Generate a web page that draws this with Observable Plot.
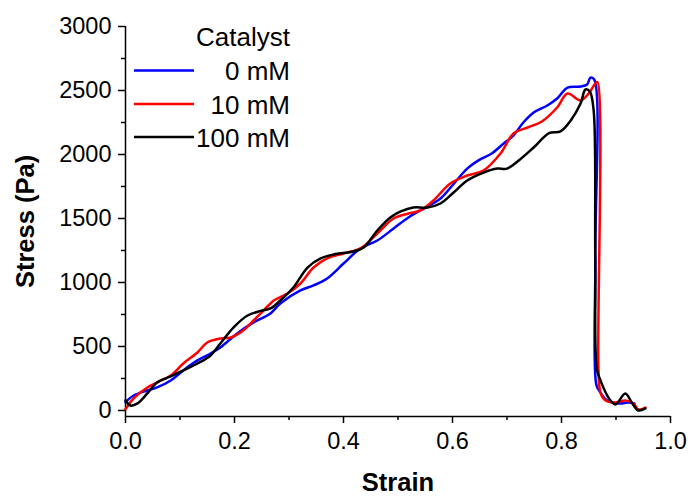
<!DOCTYPE html>
<html>
<head>
<meta charset="utf-8">
<script src="https://cdn.jsdelivr.net/npm/d3@7"></script>
<script src="https://cdn.jsdelivr.net/npm/@observablehq/plot@0.6"></script>
<style>
  html, body { margin: 0; padding: 0; background: #fff; }
  #chart { width: 690px; height: 496px; }
  svg { font-family: "Liberation Sans", Arial, sans-serif; }
</style>
</head>
<body>
<div id="chart"></div>
<script>
// ---- Data ----
const seriesNames = ["0 mM", "10 mM", "100 mM"];
const seriesColors = ["#0000ff", "#ff0000", "#000000"];
const legendTitle = "Catalyst";
const xLabel = "Strain";
const yLabel = "Stress (Pa)";
const xTicks = [0, 0.2, 0.4, 0.6, 0.8, 1.0];
const xMinorTicks = [0.1, 0.3, 0.5, 0.7, 0.9];
const yTicks = [0, 500, 1000, 1500, 2000, 2500, 3000];
const yMinorTicks = [250, 750, 1250, 1750, 2250, 2750];

const strain0 = [0.000,0.015,0.040,0.058,0.083,0.106,0.132,0.156,0.174,0.205,0.235,0.266,0.284,0.321,0.345,0.370,0.400,0.431,0.462,0.492,0.519,0.541,0.578,0.600,0.627,0.650,0.672,0.694,0.712,0.730,0.749,0.774,0.792,0.811,0.835,0.847,0.853,0.860,0.862,0.864,0.870,0.884,0.905,0.923,0.934];
const stress0 = [65,117,156,180,234,313,391,445,492,602,688,758,836,938,977,1031,1148,1266,1328,1422,1508,1563,1656,1760,1890,1960,2008,2086,2150,2250,2328,2383,2437,2523,2531,2547,2600,2586,1200,200,150,78,55,62,55];

const strain10 = [0.000,0.015,0.040,0.058,0.083,0.106,0.132,0.150,0.174,0.193,0.216,0.235,0.266,0.272,0.297,0.321,0.345,0.370,0.400,0.431,0.462,0.492,0.519,0.541,0.565,0.596,0.627,0.657,0.688,0.712,0.738,0.764,0.792,0.811,0.835,0.850,0.862,0.866,0.868,0.872,0.881,0.899,0.917,0.932,0.941,0.954];
const stress10 = [10,94,180,219,273,367,453,531,563,570,625,703,836,860,914,992,1117,1188,1227,1266,1383,1500,1539,1563,1641,1773,1836,1875,2008,2164,2211,2258,2367,2477,2422,2477,2555,2565,300,133,78,62,78,55,8,23];

const strain100 = [0.000,0.009,0.022,0.040,0.058,0.083,0.106,0.132,0.156,0.174,0.198,0.224,0.248,0.266,0.284,0.308,0.334,0.358,0.382,0.418,0.437,0.462,0.486,0.505,0.528,0.554,0.578,0.602,0.627,0.657,0.682,0.700,0.725,0.749,0.778,0.798,0.817,0.835,0.844,0.852,0.859,0.862,0.865,0.872,0.886,0.899,0.917,0.930,0.941,0.954];
const stress100 = [80,39,55,133,219,266,313,367,430,523,648,742,778,797,859,961,1117,1188,1219,1242,1273,1406,1508,1555,1586,1586,1617,1703,1797,1859,1890,1890,1965,2055,2168,2180,2266,2398,2508,2492,2344,1200,320,230,102,47,133,55,0,16];

// ---- Build table ----
const strains = [strain0, strain10, strain100];
const stresses = [stress0, stress10, stress100];
const rows = [];
seriesNames.forEach((name, i) => {
  strains[i].forEach((s, j) => rows.push({series: name, strain: s, stress: stresses[i][j]}));
});

const yMin = -47;

const chart = Plot.plot({
  width: 690,
  height: 496,
  marginLeft: 125,
  marginRight: 20,
  marginTop: 26,
  marginBottom: 80,
  style: {fontFamily: '"Liberation Sans", Arial, sans-serif', color: "#000", background: "#fff"},
  x: {domain: [0, 1]},
  y: {domain: [yMin, 3000]},
  color: {domain: seriesNames, range: seriesColors},
  marks: [
    Plot.axisX(xTicks, {tickSize: 7, tickPadding: 9, fontSize: 23.5, strokeWidth: 1.5, tickFormat: d3.format(".1f"), label: null}),
    Plot.axisX(xMinorTicks, {tickSize: 4, strokeWidth: 1.5, tickFormat: () => "", label: null}),
    Plot.axisY(yTicks, {tickSize: 7, tickPadding: 7, fontSize: 23.5, strokeWidth: 1.5, tickFormat: d => String(d), label: null}),
    Plot.axisY(yMinorTicks, {tickSize: 4, strokeWidth: 1.5, tickFormat: () => "", label: null}),
    Plot.ruleX([0], {y1: yMin, y2: 3000, strokeWidth: 1.5}),
    Plot.ruleY([yMin], {x1: 0, x2: 1, strokeWidth: 1.5}),
    Plot.line(rows, {x: "strain", y: "stress", z: "series", stroke: "series", strokeWidth: 2.5, curve: "catmull-rom"}),
    Plot.text([xLabel], {frameAnchor: "bottom", dy: 74, lineAnchor: "bottom", textAnchor: "middle", fontSize: 25.5, fontWeight: "bold"}),
    Plot.text([yLabel], {frameAnchor: "left", dx: -92, rotate: -90, lineAnchor: "bottom", textAnchor: "middle", fontSize: 25.5, fontWeight: "bold"})
  ]
});

// ---- Legend ----
const svg = d3.select(chart);
const lg = svg.append("g").attr("font-family", '"Liberation Sans", Arial, sans-serif').attr("font-size", 26);
lg.append("text").attr("x", 290).attr("y", 46).attr("text-anchor", "end").attr("fill", "#000").text(legendTitle);
const rowY = [70.5, 104, 137];
seriesNames.forEach((name, i) => {
  lg.append("line").attr("x1", 134).attr("x2", 194).attr("y1", rowY[i]).attr("y2", rowY[i])
    .attr("stroke", seriesColors[i]).attr("stroke-width", 2.5);
  lg.append("text").attr("x", 290).attr("y", rowY[i] + 9.5).attr("text-anchor", "end").attr("fill", "#000").text(name);
});

document.getElementById("chart").appendChild(chart);
</script>
</body>
</html>
